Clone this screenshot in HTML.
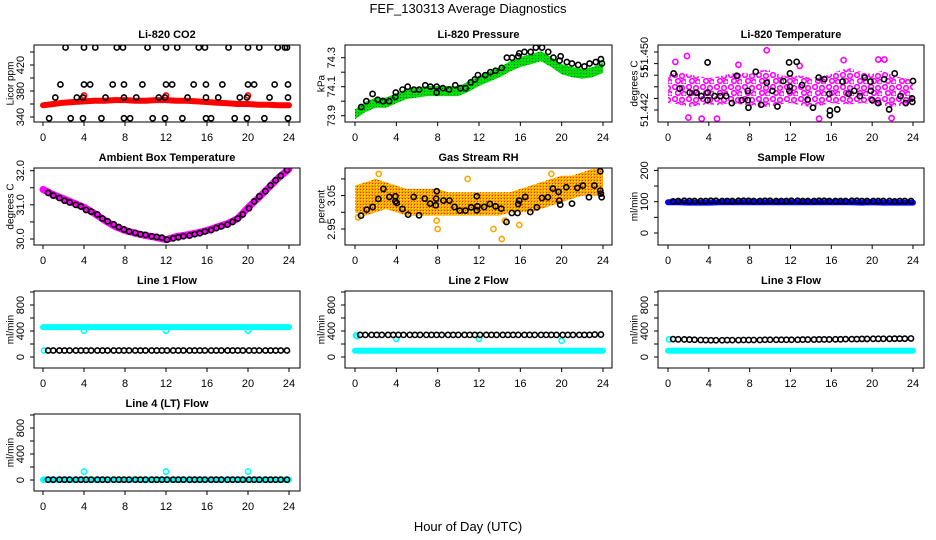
<!DOCTYPE html>
<html><head><meta charset="utf-8">
<style>
html,body{margin:0;padding:0;background:#fff;}
svg{display:block;font-family:"Liberation Sans",Arial,sans-serif;}
</style></head>
<body>
<svg id="chart" width="936" height="540" viewBox="0 0 936 540" xmlns="http://www.w3.org/2000/svg">
<defs>
<pattern id="pGreen" width="3" height="3" patternUnits="userSpaceOnUse"><rect width="3" height="3" fill="#00e000"/><rect x="1" y="1" width="1" height="1" fill="#063"/></pattern>
<pattern id="pMag" width="14" height="12" patternUnits="userSpaceOnUse"><rect width="14" height="12" fill="#fff"/><circle cx="3" cy="3" r="2.3" fill="none" stroke="#ff00ff" stroke-width="1.6"/><circle cx="10" cy="4" r="2.3" fill="none" stroke="#ff00ff" stroke-width="1.6"/><circle cx="6" cy="9" r="2.3" fill="none" stroke="#ff00ff" stroke-width="1.6"/><circle cx="12" cy="10" r="2.3" fill="none" stroke="#ff00ff" stroke-width="1.6"/></pattern>
<pattern id="pOrange" width="3" height="3" patternUnits="userSpaceOnUse"><rect width="3" height="3" fill="#ffa500"/><rect x="1" y="1" width="1" height="1" fill="#ff0"/><rect x="0" y="0" width="1" height="1" fill="#e03000"/></pattern>
</defs>
<text x="468" y="13" text-anchor="middle" font-size="13">FEF_130313  Average Diagnostics</text>
<text x="468" y="531" text-anchor="middle" font-size="13">Hour of Day (UTC)</text>
</svg>
<script>
// ---- shared ----
const xTicks = [0,4,8,12,16,20,24];
const timeGrid = [0.5,1.0,1.6,2.1,2.6,3.2,3.7,4.2,4.7,5.3,5.8,6.3,6.9,7.4,7.9,8.4,9.0,9.5,10.0,10.6,11.1,11.6,12.1,12.7,13.2,13.7,14.3,14.8,15.3,15.8,16.4,16.9,17.4,18.0,18.5,19.0,19.5,20.1,20.6,21.1,21.7,22.2,22.7,23.2,23.8];
const hours = [0,1,2,3,4,5,6,7,8,9,10,11,12,13,14,15,16,17,18,19,20,21,22,23,24];
// ---- CO2 ----
const co2Band = [358,360,362,363,364,365,365,366,366,365,365,366,366,365,365,364,363,362,361,360,360,359,359,358,358];
const co2TopX = [2.2,4,5.1,7.2,7.8,10.2,12,13.1,15.2,15.8,18.1,20,21.1,22.9,23.6,23.8];
const co2MidX = [1.7,4,4.6,6.8,7.9,9.7,12,12.6,14.7,15.9,17.5,20,20.6,22.6,23.9];
const co2LowX = [1.2,3.3,3.9,6.1,7.9,9.1,11.3,11.9,14.1,15.9,17.1,19.2,19.9,22.1,23.9];
const co2BotX = [0.6,2.7,3.9,5.7,7.9,8.5,10.7,11.9,13.6,15.9,16.4,18.7,19.9,21.6,23.9];
const co2Levels = [447,390,370,338];
const co2RedOutX = [4,12,20];
const co2RedOutY = [373,373,373];
// ---- Pressure ----
const presBand = [73.91,73.96,73.99,73.99,74.02,74.05,74.06,74.07,74.07,74.07,74.07,74.1,74.14,74.17,74.2,74.24,74.27,74.29,74.31,74.27,74.22,74.2,74.19,74.2,74.23];
const presBlackX = [0.6,1.1,1.7,2.2,2.7,3.3,3.9,3.95,4.6,5.1,5.7,6.2,6.8,7.3,7.9,7.9,8.5,9.1,9.7,10.2,10.7,11.2,11.6,11.9,12.6,13.1,13.6,14.2,14.7,15.2,15.8,15.9,16.4,17,17.5,18.1,18.7,19.2,19.8,19.9,20.5,21,21.6,22.2,22.7,23.3,23.8,23.9];
const presBlackY = [73.96,74.0,74.05,74.01,74.0,74.0,74.03,74.06,74.08,74.1,74.08,74.08,74.11,74.1,74.1,74.06,74.09,74.08,74.11,74.09,74.09,74.13,74.15,74.18,74.18,74.2,74.21,74.23,74.3,74.3,74.31,74.33,74.34,74.34,74.37,74.37,74.34,74.3,74.28,74.31,74.27,74.26,74.25,74.24,74.26,74.27,74.29,74.26];
// ---- Li-820 Temperature ----
const tempUpper = [51.4460,51.4465,51.4462,51.4458,51.4455,51.4458,51.4462,51.4465,51.4462,51.4468,51.4470,51.4460,51.4458,51.4460,51.4455,51.4458,51.4462,51.4470,51.4472,51.4465,51.4462,51.4468,51.4460,51.4455,51.4452];
const tempLower = [51.4412,51.4410,51.4405,51.4408,51.4410,51.4408,51.4412,51.4410,51.4408,51.4406,51.4405,51.4410,51.4412,51.4408,51.4405,51.4408,51.4412,51.4410,51.4410,51.4412,51.4410,51.4408,51.4405,51.4408,51.4412];
const tempOutX = [0.72,1.86,9.67,3.3,4.8,14.8,17.2,20.6,21.2,21.9,2.0,6.9,12.9];
const tempOutY = [51.4483,51.4493,51.4503,51.4385,51.4385,51.4385,51.4486,51.4487,51.4487,51.4386,51.4387,51.4478,51.4476];
const tempBlackX = [0.55,1.14,2.12,2.77,3.26,3.88,3.88,4.56,5.11,5.7,6.25,6.74,7.23,7.82,7.82,7.88,8.6,9.12,9.67,10.23,10.72,11.3,11.86,11.89,11.95,11.95,12.6,13.13,13.68,14.2,14.76,15.31,15.8,15.86,15.86,16.58,17.1,17.69,18.24,18.79,19.28,19.84,19.87,20,20.59,21.17,21.66,22.21,22.77,23.29,23.9,23.94,24,3.88];
const tempBlackY = [51.4463,51.4437,51.4430,51.4430,51.4424,51.4430,51.4417,51.4424,51.4424,51.4424,51.4412,51.4459,51.4417,51.4433,51.4417,51.4404,51.4466,51.4409,51.4447,51.4433,51.4406,51.4450,51.4482,51.4433,51.4440,51.4463,51.4483,51.4443,51.4418,51.4404,51.4456,51.4453,51.4428,51.4399,51.4391,51.4401,51.4449,51.4428,51.4433,51.4424,51.4456,51.4449,51.4433,51.4417,51.4412,51.4453,51.4401,51.4463,51.4424,51.4412,51.4420,51.4414,51.4450,51.4482];
// ---- Ambient Box Temperature ----
const ambBand = [31.45,31.3,31.18,31.05,30.93,30.75,30.55,30.37,30.25,30.17,30.1,30.05,29.98,30.07,30.12,30.18,30.25,30.35,30.45,30.6,30.92,31.2,31.5,31.8,32.05];
const ambBlack = [31.35,31.27,31.2,31.12,31.07,31.0,30.95,30.85,30.8,30.72,30.6,30.52,30.43,30.35,30.28,30.22,30.18,30.14,30.12,30.08,30.06,30.04,29.98,30.02,30.05,30.08,30.1,30.14,30.17,30.22,30.26,30.32,30.37,30.42,30.5,30.6,30.72,30.9,31.1,31.25,31.4,31.57,31.72,31.85,32.02];
// ---- Gas Stream RH ----
const rhUpper = [3.08,3.09,3.10,3.09,3.08,3.07,3.07,3.07,3.07,3.06,3.06,3.06,3.06,3.06,3.06,3.06,3.07,3.08,3.09,3.10,3.11,3.11,3.12,3.13,3.13];
const rhLower = [3.00,2.99,3.00,3.01,3.00,2.99,2.99,2.99,2.99,2.99,2.99,2.99,2.99,2.99,2.99,3.00,3.00,3.00,3.01,3.02,3.03,3.04,3.05,3.05,3.05];
const rhOutX = [7.9,8.0,13.4,14.2,15.9,14.5,0.3,10.9,2.3,19.0];
const rhOutY = [2.975,2.95,2.95,2.92,2.962,2.975,2.985,3.10,3.115,3.115];
const rhBlackX = [0.58,1.13,1.71,2.26,2.75,3.33,3.91,3.91,4.04,4.59,5.14,5.68,6.2,6.75,7.27,7.82,7.85,7.91,8.56,9.14,9.63,10.14,10.69,11.24,11.79,11.79,11.85,12.5,13.05,13.6,14.15,14.66,15.18,15.73,15.79,15.89,16.47,16.96,17.6,18.09,18.67,19.15,19.7,19.77,19.86,20.45,21,21.51,22.06,22.64,23.16,23.74,23.74,23.8,23.87];
const rhBlackY = [2.990,3.008,3.016,3.040,3.070,3.046,3.048,3.033,3.028,3.010,2.993,3.046,2.991,3.041,3.026,3.021,3.041,3.063,3.035,3.035,3.016,3.005,3.005,3.015,3.048,3.006,3.018,3.016,3.025,3.018,3.011,2.971,2.998,2.998,3.025,3.035,3.046,3.001,3.015,3.043,3.045,3.071,3.061,3.035,3.023,3.075,3.026,3.073,3.080,3.045,3.080,3.123,3.065,3.056,3.045];
// ---- Sample Flow ----
const sampBand = [98,98,97,97,97,98,98,98,98,98,98,98,98,98,98,98,98,98,98,97,98,97,97,97,97];
const sampBlack = [101,102,103,102,102,102,102,103,103,102,102,102,103,103,103,102,102,103,103,102,102,102,103,103,102,102,102,103,103,102,102,102,102,103,103,102,102,102,102,102,102,101,102,102,102];
// ---- Line flows ----
const l1Cyan = [460,460,460,460,460,460,460,460,460,460,460,460,460,460,460,460,460,460,460,460,460,460,460,460,460];
const l1CyanOutX = [0.1,4,12,20];
const l1CyanOutY = [100,405,405,405];
const l1Black = [100,100,100,100,100,100,100,100,100,100,100,100,100,100,100,100,100,100,100,100,100,100,100,100,100,100,100,100,100,100,100,100,100,100,100,100,100,100,100,100,100,100,100,100,100];
const l2Cyan = [95,95,95,95,95,95,95,95,95,95,95,95,95,95,95,95,95,95,95,95,95,95,95,95,95];
const l2CyanOutX = [0.1,0.2,4,12,20];
const l2CyanOutY = [330,320,280,280,250];
const l2Black = [340,340,340,340,340,340,340,340,340,340,340,340,340,340,340,340,340,340,340,340,340,340,340,340,340,340,340,340,340,340,340,340,340,340,340,340,340,340,340,340,340,340,340,345,345];
const l3Cyan = [95,95,95,95,95,95,95,95,95,95,95,95,95,95,95,95,95,95,95,95,95,95,95,95,95];
const l3CyanOutX = [0.1];
const l3CyanOutY = [270];
const l3Black = [275,272,270,268,265,262,260,258,258,258,260,260,260,262,262,262,262,265,265,265,265,265,265,265,268,268,268,270,270,270,272,272,275,275,275,278,278,280,280,280,280,282,282,282,285];
const l4Cyan = [5,5,5,5,5,5,5,5,5,5,5,5,5,5,5,5,5,5,5,5,5,5,5,5,5];
const l4CyanOutX = [0.1,4,12,20];
const l4CyanOutY = [5,130,130,130];
const l4Black = [5,5,5,5,5,5,5,5,5,5,5,5,5,5,5,5,5,5,5,5,5,5,5,5,5,5,5,5,5,5,5,5,5,5,5,5,5,5,5,5,5,5,5,5,5];

const svg = document.getElementById('chart');
const NS = 'http://www.w3.org/2000/svg';
function mk(tag, attrs, parent){
  const el = document.createElementNS(NS, tag);
  for (const k in attrs) el.setAttribute(k, attrs[k]);
  (parent||svg).appendChild(el);
  return el;
}
const cols = [{bx0:34,bx1:300,x0:43,x24:289,ylab:10,tl:20},{bx0:345,bx1:612,x0:355,x24:603,ylab:321,tl:331},{bx0:658,bx1:924,x0:668,x24:913,ylab:634,tl:644}];
const rowTop = [45,168,291,414];
const BH = 77;

function panel(name, title, ylabel, row, col, yA, yB, yTicks, yLabels){
  const c = cols[col], top = rowTop[row], bot = top + BH;
  const g = mk('g', {});
  
  
  const xs = h => c.x0 + (c.x24 - c.x0) * h / 24;
  const ys = v => top + yA[1] + (v - yA[0]) * (yB[1] - yA[1]) / (yB[0] - yA[0]);
  const plot = mk('g', {}, g);
  
  
  const clip = mk('clipPath', {id: 'clip-' + name}, g);
  mk('rect', {x: c.bx0, y: top, width: c.bx1 - c.bx0, height: BH}, clip);
  plot.setAttribute('clip-path', 'url(#clip-' + name + ')');
  const box = mk('rect', {x: c.bx0, y: top, width: c.bx1 - c.bx0, height: BH, fill: 'none', stroke: '#000', 'stroke-width': 1}, g);
  
  
  const t = mk('text', {x: (c.bx0 + c.bx1) / 2, y: top - 7, 'text-anchor': 'middle', 'font-size': 11, 'font-weight': 'bold'}, g);
  t.textContent = title;
  
  
  const yl = mk('text', {x: c.ylab, y: top + BH / 2, 'text-anchor': 'middle', 'font-size': 10, transform: 'rotate(-90 ' + c.ylab + ' ' + (top + BH / 2) + ')', dy: '0.35em'}, g);
  yl.textContent = ylabel;
  
  
  const xa = mk('g', {}, g);
  
  
  mk('line', {x1: xs(0), x2: xs(24), y1: bot, y2: bot, stroke: '#000'}, xa);
  xTicks.forEach(h => {
    mk('line', {x1: xs(h), x2: xs(h), y1: bot, y2: bot + 4, stroke: '#000'}, xa);
    const tl = mk('text', {x: xs(h), y: bot + 19, 'text-anchor': 'middle', 'font-size': 11}, xa);
    tl.textContent = h;
    
    
  });
  const ya = mk('g', {}, g);
  
  
  mk('line', {x1: c.bx0, x2: c.bx0, y1: ys(yTicks[0]), y2: ys(yTicks[yTicks.length - 1]), stroke: '#000'}, ya);
  yTicks.forEach(v => mk('line', {x1: c.bx0 - 4, x2: c.bx0, y1: ys(v), y2: ys(v), stroke: '#000'}, ya));
  yLabels.forEach(l => {
    const yy = ys(l[0]);
    const tl = mk('text', {x: c.tl, y: yy, 'text-anchor': 'middle', 'font-size': 11, dy: '0.35em', transform: 'rotate(-90 ' + c.tl + ' ' + yy + ')'}, ya);
    tl.textContent = l[1];
    
    
  });
  return {plot, xs, ys};
}
function line(p, xArr, yArr, color, w, nm){
  const pts = xArr.map((x, i) => p.xs(x).toFixed(1) + ',' + p.ys(yArr[i]).toFixed(1)).join(' ');
  const el = mk('polyline', {points: pts, fill: 'none', stroke: color, 'stroke-width': w, 'stroke-linejoin': 'round', 'stroke-linecap': 'round'}, p.plot);
  
  
}
function band(p, xArr, lo, hi, fill, nm){
  const a = xArr.map((x, i) => p.xs(x).toFixed(1) + ',' + p.ys(hi[i]).toFixed(1));
  const b = xArr.map((x, i) => p.xs(x).toFixed(1) + ',' + p.ys(lo[i]).toFixed(1)).reverse();
  const el = mk('polygon', {points: a.concat(b).join(' '), fill: fill, stroke: 'none'}, p.plot);
  
  
}
function pts(p, xArr, yArr, color, nm, r){
  xArr.forEach((x, i) => {
    const el = mk('circle', {cx: p.xs(x), cy: p.ys(yArr[i]), r: r || 2.6, fill: 'none', stroke: color, 'stroke-width': 1.6}, p.plot);
    
    
  });
}

let p = panel('co2', 'Li-820 CO2', 'Licor ppm', 0, 0, [340, 72], [440, 7], [340,360,380,400,420,440], [[340,'340'],[380,'380'],[420,'420']]);
line(p, hours, co2Band, '#ff0000', 6, 'co2-red-series');
pts(p, co2RedOutX, co2RedOutY, '#ff0000', 'co2-red-point');
[co2TopX, co2MidX, co2LowX, co2BotX].forEach((arr, k) => pts(p, arr, arr.map(() => co2Levels[k]), '#000', 'co2-black-point'));

p = panel('pressure', 'Li-820 Pressure', 'kPa', 0, 1, [73.9, 70.7], [74.3, 12.7], [73.9,74.0,74.1,74.2,74.3], [[73.9,'73.9'],[74.1,'74.1'],[74.3,'74.3']]);
band(p, hours, presBand.map(v => v - 0.035), presBand.map(v => v + 0.035), 'url(#pGreen)', 'pressure-green-series');
pts(p, presBlackX, presBlackY, '#000', 'pressure-black-point');

p = panel('li820-temp', 'Li-820 Temperature', 'degrees C', 0, 2, [51.440, 65], [51.450, 7], [51.440,51.442,51.444,51.446,51.448,51.450], [[51.4400,'51.442'],[51.4466,'51'],[51.4497,'51.450']]);
band(p, hours, tempLower, tempUpper, 'url(#pMag)', 'li820-temp-magenta-series');
pts(p, tempOutX, tempOutY, '#ff00ff', 'li820-temp-magenta-point');
pts(p, tempBlackX, tempBlackY, '#000', 'li820-temp-black-point');

p = panel('ambient', 'Ambient Box Temperature', 'degrees C', 1, 0, [30.0, 71], [32.0, 2.7], [30.0,30.5,31.0,31.5,32.0], [[30.0,'30.0'],[31.0,'31.0'],[32.0,'32.0']]);
line(p, hours, ambBand, '#ff00ff', 7, 'ambient-magenta-series');
pts(p, timeGrid, ambBlack, '#000', 'ambient-black-point');

p = panel('rh', 'Gas Stream RH', 'percent', 1, 1, [2.95, 61], [3.05, 27.6], [2.95,3.0,3.05,3.1], [[2.95,'2.95'],[3.05,'3.05']]);
band(p, hours, rhLower, rhUpper, 'url(#pOrange)', 'rh-orange-series');
pts(p, rhOutX, rhOutY, '#ffa500', 'rh-orange-point');
pts(p, rhBlackX, rhBlackY, '#000', 'rh-black-point');

p = panel('sample-flow', 'Sample Flow', 'ml/min', 1, 2, [0, 65], [200, 2.4], [0,50,100,150,200], [[0,'0'],[100,'100'],[200,'200']]);
line(p, hours, sampBand, '#0000ff', 6, 'sample-flow-blue-series');
pts(p, timeGrid, sampBlack, '#000', 'sample-flow-black-point');

const flowTicks = [0,200,400,600,800,1000];
const flowLabels = [[0,'0'],[400,'400'],[800,'800']];
const flows = [
  ['line1-flow','Line 1 Flow',2,0,l1Cyan,l1CyanOutX,l1CyanOutY,l1Black],
  ['line2-flow','Line 2 Flow',2,1,l2Cyan,l2CyanOutX,l2CyanOutY,l2Black],
  ['line3-flow','Line 3 Flow',2,2,l3Cyan,l3CyanOutX,l3CyanOutY,l3Black],
  ['line4-flow','Line 4 (LT) Flow',3,0,l4Cyan,l4CyanOutX,l4CyanOutY,l4Black]
];
flows.forEach(f => {
  const q = panel(f[0], f[1], 'ml/min', f[2], f[3], [0, 66], [800, 14], flowTicks, flowLabels);
  line(q, hours, f[4], '#00ffff', 6, f[0] + '-cyan-series');
  pts(q, f[5], f[6], '#00ffff', f[0] + '-cyan-point');
  pts(q, timeGrid, f[7], '#000', f[0] + '-black-point');
});
</script>
</body></html>
